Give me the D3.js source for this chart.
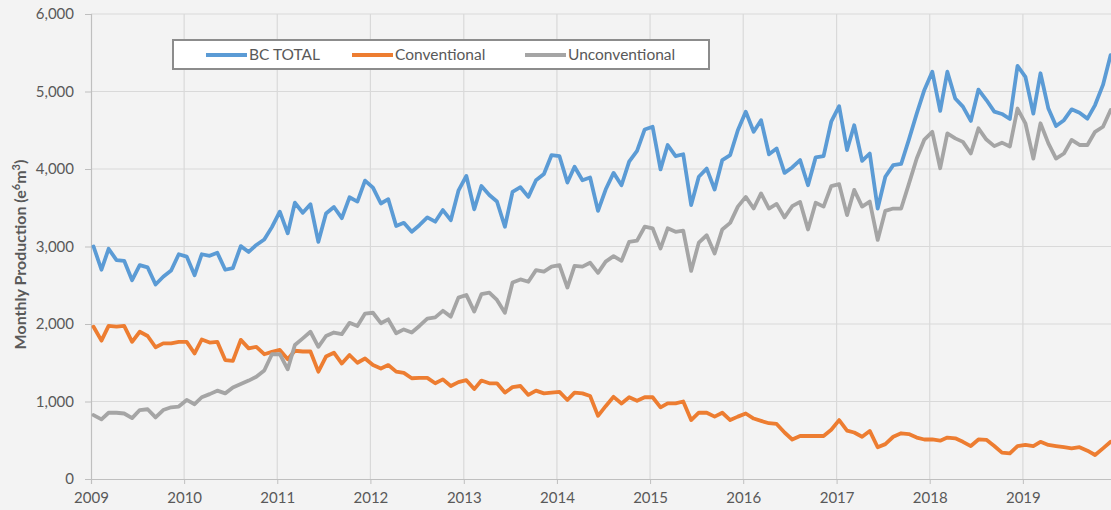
<!DOCTYPE html>
<html>
<head>
<meta charset="utf-8">
<script src="https://cdn.jsdelivr.net/npm/d3@7"></script>
<style>
  body { margin: 0; background: #f3f3f3; }
  svg { display: block; font-family: Lato, "Open Sans", sans-serif; }
</style>
</head>
<body>
<svg></svg>
<script>
const width = 1111;
const height = 510;

const seriesNames = ["BC TOTAL", "Conventional", "Unconventional"];
const seriesColors = ["#5b9bd5", "#ed7d31", "#a5a5a5"];
const yearLabels = ["2009", "2010", "2011", "2012", "2013", "2014", "2015", "2016", "2017", "2018", "2019"];
const yTicks = [0, 1000, 2000, 3000, 4000, 5000, 6000];

// monthly values, Jan 2009 .. Dec 2019 (e6m3)
const bcTotal = [
  3000, 2700, 2970, 2825, 2815, 2565, 2760, 2730, 2510, 2610, 2690, 2900,
  2870, 2630, 2900, 2880, 2920, 2700, 2720, 3005, 2930, 3020, 3090, 3250,
  3450, 3170, 3565, 3435, 3545, 3060, 3425, 3510, 3365, 3635, 3580, 3850,
  3760, 3555, 3610, 3265, 3305, 3190, 3275, 3375, 3320, 3470, 3340, 3720,
  3910, 3480, 3780, 3665, 3580, 3255, 3705, 3765, 3640, 3855, 3935, 4180,
  4165, 3825, 4030, 3855, 3890, 3460, 3735, 3950, 3790, 4095, 4235, 4510,
  4545, 3995, 4310, 4165, 4190, 3535, 3900, 4005, 3735, 4115, 4180, 4500,
  4740, 4480, 4630, 4190, 4265, 3950, 4020, 4115, 3790, 4150, 4165, 4610,
  4810, 4245, 4565, 4105, 4200, 3490, 3900, 4050, 4065, 4375, 4715, 5020,
  5255, 4750, 5255, 4910, 4805, 4620, 5025, 4890, 4740, 4710, 4645, 5330,
  5190, 4715, 5235, 4780, 4555, 4630, 4770, 4725, 4650, 4825, 5085, 5470
];
const conventional = [
  1965, 1785, 1975, 1965, 1975, 1770, 1900, 1845, 1700, 1750, 1750, 1770,
  1770, 1620, 1800, 1760, 1770, 1535, 1525, 1795, 1685, 1705, 1610, 1640,
  1665, 1545, 1655, 1645, 1645, 1385, 1580, 1630, 1490, 1600, 1500, 1555,
  1470, 1425, 1470, 1385, 1370, 1300, 1305, 1305, 1235, 1285, 1200, 1250,
  1275, 1160, 1270, 1235, 1235, 1115, 1185, 1200, 1085, 1140, 1105, 1115,
  1125, 1020, 1115, 1105, 1070, 815, 940, 1060, 975, 1055, 1010, 1055,
  1055, 925, 975, 975, 1000, 760, 855, 855, 805, 855, 760, 805,
  845, 780, 750, 720, 710, 600, 510, 555, 555, 555, 555, 635,
  760, 625, 600, 545, 620, 410, 450, 545, 590, 580, 535, 510,
  510, 495, 535, 525, 480, 425, 510, 505, 425, 340, 330, 425,
  440, 425, 480, 440, 425, 410, 395, 410, 365, 310, 395, 480
];
const unconventional = [
  825, 770, 855, 855, 845, 785, 890, 900, 795, 890, 925, 935,
  1020, 965, 1055, 1095, 1140, 1105, 1180, 1225, 1270, 1320, 1400, 1610,
  1610, 1415, 1730, 1815, 1900, 1705, 1845, 1890, 1870, 2015, 1975, 2135,
  2145, 2010, 2060, 1880, 1930, 1890, 1975, 2070, 2085, 2170, 2095, 2340,
  2375, 2160, 2385, 2405, 2310, 2145, 2535, 2575, 2545, 2695, 2675, 2740,
  2760, 2470, 2750, 2740, 2790, 2660, 2805, 2875, 2815, 3060, 3075, 3255,
  3235, 2975, 3235, 3190, 3205, 2685, 3050, 3145, 2910, 3220, 3305, 3515,
  3640, 3490, 3685, 3490, 3550, 3375, 3520, 3575, 3220, 3565, 3515, 3780,
  3805, 3405, 3730, 3515, 3580, 3085, 3460, 3490, 3490, 3805, 4135, 4380,
  4480, 4010, 4460, 4395, 4350, 4200, 4525, 4380, 4295, 4340, 4290, 4780,
  4590, 4135, 4590, 4330, 4135, 4200, 4375, 4310, 4310, 4480, 4545, 4760
];

const seriesValues = [bcTotal, conventional, unconventional];
const months = d3.timeMonth.range(new Date(2009, 0, 1), new Date(2020, 0, 1))
  .map(d => d3.timeDay.offset(d, 10));

const svg = d3.select("svg")
  .attr("width", width)
  .attr("height", height);

const plotLeft = 91, plotTop = 14, plotBottom = 479;

const x = d3.scaleTime()
  .domain([new Date(2009, 0, 1), new Date(2020, 0, 1)])
  .range([plotLeft, 1116]);

const y = d3.scaleLinear()
  .domain([0, 6000])
  .range([plotBottom, plotTop]);

const yearDates = yearLabels.map(s => new Date(+s, 0, 1));

// gridlines
svg.append("g")
  .selectAll("line")
  .data(yTicks.filter(d => d > 0))
  .join("line")
  .attr("x1", plotLeft).attr("x2", width)
  .attr("y1", d => y(d)).attr("y2", d => y(d))
  .attr("stroke", "#d9d9d9")
  .attr("stroke-width", 1.2);

svg.append("g")
  .selectAll("line")
  .data(yearDates.slice(1))
  .join("line")
  .attr("x1", d => x(d)).attr("x2", d => x(d))
  .attr("y1", plotTop).attr("y2", plotBottom)
  .attr("stroke", "#d9d9d9")
  .attr("stroke-width", 1.2);

// axes
const yAxis = svg.append("g")
  .attr("transform", `translate(${plotLeft},0)`)
  .call(d3.axisLeft(y).tickValues(yTicks).tickFormat(d3.format(",")).tickSize(6).tickPadding(11));

const xAxis = svg.append("g")
  .attr("transform", `translate(0,${plotBottom})`)
  .call(d3.axisBottom(x).tickValues(yearDates).tickFormat((d, i) => yearLabels[i]).tickSize(5).tickPadding(8));

[yAxis, xAxis].forEach(function(g) {
  g.select(".domain").attr("stroke", "#bfbfbf").attr("stroke-width", 1.2);
  g.selectAll(".tick line").attr("stroke", "#bfbfbf");
  g.selectAll(".tick text")
    .attr("fill", "#595959")
    .style("font-size", "15px")
    .style("font-family", "Lato, 'Open Sans', sans-serif");
});

svg.append("text")
  .attr("transform", `translate(26,${(plotTop + plotBottom) / 2 + 8}) rotate(-90)`)
  .attr("text-anchor", "middle")
  .attr("fill", "#595959")
  .style("font-size", "16px")
  .style("font-weight", "bold")
  .html('Monthly Production (e<tspan dy="-6" font-size="11px">6</tspan><tspan dy="6">m</tspan><tspan dy="-6" font-size="11px">3</tspan><tspan dy="6">)</tspan>');

// lines
const line = d3.line()
  .x((d, i) => x(months[i]))
  .y(d => y(d));

svg.append("g")
  .selectAll("path")
  .data(seriesValues)
  .join("path")
  .attr("d", line)
  .attr("fill", "none")
  .attr("stroke", (d, i) => seriesColors[i])
  .attr("stroke-width", 3.8)
  .attr("stroke-linejoin", "round")
  .attr("stroke-linecap", "round");

// legend
const legend = svg.append("g");

legend.append("rect")
  .attr("x", 173).attr("y", 40)
  .attr("width", 536).attr("height", 29)
  .attr("fill", "#ffffff")
  .attr("stroke", "#8c8c8c")
  .attr("stroke-width", 2);

const legendX = [206, 352, 525];

const item = legend.selectAll("g")
  .data(seriesNames)
  .join("g")
  .attr("transform", (d, i) => `translate(${legendX[i]},55)`);

item.append("line")
  .attr("x1", 0).attr("x2", 41)
  .attr("stroke", (d, i) => seriesColors[i])
  .attr("stroke-width", 3.8);

item.append("text")
  .attr("x", 43)
  .attr("dy", "0.35em")
  .attr("fill", "#595959")
  .style("font-size", "15.5px")
  .text(d => d);
</script>
</body>
</html>
